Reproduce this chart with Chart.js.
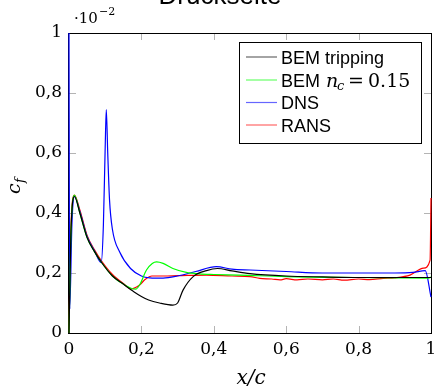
<!DOCTYPE html>
<html>
<head>
<meta charset="utf-8">
<script src="https://cdn.jsdelivr.net/npm/chart.js@4.4.1/dist/chart.umd.min.js"></script>
<style>
  html, body { margin: 0; padding: 0; background: #fff; }
  #wrap { width: 434px; height: 389px; }
</style>
</head>
<body>
<div id="wrap"><canvas id="cfChart" width="434" height="389"></canvas></div>
<script>
// tick labels (x/c und c_f in 1e-2)
const xTicks = [0, 0.2, 0.4, 0.6, 0.8, 1];
const yTicks = [0, 0.2, 0.4, 0.6, 0.8, 1];

// BEM tripping (schwarz)
const bemTripX = [0, 0.005, 0.015, 0.03, 0.05, 0.07, 0.09, 0.12, 0.15, 0.18, 0.2, 0.22, 0.25, 0.287, 0.3, 0.315, 0.343, 0.38, 0.41, 0.45, 0.5, 0.6, 0.7, 0.8, 0.9, 1.0];
const bemTripY = [0, 0.32, 0.455, 0.4, 0.318, 0.272, 0.235, 0.19, 0.163, 0.137, 0.122, 0.11, 0.1, 0.093, 0.1, 0.143, 0.188, 0.208, 0.215, 0.207, 0.198, 0.19, 0.187, 0.185, 0.185, 0.185];

// BEM n_c = 0.15 (gruen)
const bemNcX = [0, 0.005, 0.015, 0.03, 0.05, 0.07, 0.09, 0.12, 0.15, 0.184, 0.195, 0.214, 0.23, 0.242, 0.26, 0.287, 0.324, 0.36, 0.4, 0.47, 0.6, 0.8, 0.99, 1.0];
const bemNcY = [0, 0.32, 0.46, 0.4, 0.318, 0.272, 0.235, 0.19, 0.163, 0.146, 0.16, 0.21, 0.232, 0.237, 0.232, 0.215, 0.202, 0.197, 0.195, 0.193, 0.188, 0.185, 0.183, 0.186];

// DNS (blau)
const dnsX = [0, 0.002, 0.008, 0.015, 0.03, 0.05, 0.07, 0.089, 0.095, 0.1, 0.103, 0.107, 0.112, 0.12, 0.14, 0.17, 0.2, 0.223, 0.26, 0.3, 0.35, 0.407, 0.45, 0.5, 0.6, 0.7, 0.8, 0.9, 0.95, 0.984, 1.0];
const dnsY = [1.0, 0.08, 0.36, 0.455, 0.405, 0.322, 0.275, 0.235, 0.36, 0.62, 0.745, 0.6, 0.443, 0.345, 0.27, 0.215, 0.19, 0.184, 0.183, 0.19, 0.205, 0.221, 0.213, 0.21, 0.205, 0.2, 0.2, 0.2, 0.202, 0.208, 0.12];

// RANS (rot)
const ransX = [0, 0.004, 0.015, 0.03, 0.05, 0.07, 0.09, 0.12, 0.15, 0.172, 0.195, 0.21, 0.229, 0.26, 0.3, 0.38, 0.45, 0.5, 0.527, 0.56, 0.583, 0.6, 0.63, 0.66, 0.7, 0.73, 0.76, 0.8, 0.83, 0.868, 0.9, 0.942, 0.979, 0.9975, 1.0];
const ransY = [0, 0.3, 0.46, 0.41, 0.325, 0.278, 0.24, 0.195, 0.165, 0.147, 0.16, 0.178, 0.19, 0.19, 0.191, 0.193, 0.19, 0.188, 0.182, 0.18, 0.177, 0.181, 0.177, 0.18, 0.177, 0.18, 0.176, 0.18, 0.178, 0.182, 0.184, 0.193, 0.216, 0.243, 0.45];

function pts(xs, ys) {
  return xs.map((x, i) => ({ x: x, y: ys[i] }));
}

function fmt(v) {
  if (v === 0 || v === 1) return String(v);
  return v.toFixed(1).replace('.', ',');
}

const serif = '"DejaVu Serif", serif';
const sans = '"Liberation Sans", Arial, sans-serif';

// Rahmen + Tickstriche (pgfplots-Stil, nach innen)
const framePlugin = {
  id: 'frame',
  beforeDatasetsDraw(chart) {
    const { ctx, chartArea: a, scales } = chart;
    ctx.save();
    ctx.strokeStyle = '#b4b4b4';
    ctx.lineWidth = 1;
    ctx.beginPath();
    xTicks.slice(1, -1).forEach(v => {
      const px = Math.round(scales.x.getPixelForValue(v)) + 0.5;
      ctx.moveTo(px, a.bottom); ctx.lineTo(px, a.bottom - 7);
      ctx.moveTo(px, a.top); ctx.lineTo(px, a.top + 7);
    });
    yTicks.slice(1, -1).forEach(v => {
      const py = Math.round(scales.y.getPixelForValue(v)) + 0.5;
      ctx.moveTo(a.left, py); ctx.lineTo(a.left + 7, py);
      ctx.moveTo(a.right, py); ctx.lineTo(a.right - 7, py);
    });
    ctx.stroke();
    ctx.strokeStyle = '#000';
    ctx.strokeRect(Math.round(a.left) - 0.5, Math.round(a.top) + 0.5,
      Math.round(a.right - a.left) + 1, Math.round(a.bottom - a.top));
    ctx.restore();
  },
  afterDraw(chart) {
    const { ctx } = chart;
    ctx.save();
    ctx.fillStyle = '#000';
    ctx.textBaseline = 'alphabetic';

    // Titel (oben abgeschnitten)
    ctx.font = '26px ' + sans;
    ctx.textAlign = 'center';
    ctx.fillText('Druckseite', 220, 4);

    // Exponent ·10^-2
    ctx.textAlign = 'left';
    ctx.font = '15px ' + serif;
    ctx.fillText('\u00b710', 74, 23);
    ctx.font = '11px ' + serif;
    ctx.fillText('\u22122', 99, 15);

    // Achsentitel
    ctx.font = 'italic 20px ' + serif;
    ctx.textAlign = 'center';
    ctx.fillText('x/c', 251, 384);

    ctx.save();
    ctx.translate(20, 186);
    ctx.rotate(-Math.PI / 2);
    ctx.textAlign = 'left';
    ctx.font = 'italic 19px ' + serif;
    ctx.fillText('c', -8, 0);
    ctx.font = 'italic 13px ' + serif;
    ctx.fillText('f', 3, 4);
    ctx.restore();

    // Legende
    const lx = 239, ly = 42, lw = 182, lh = 101;
    ctx.fillStyle = '#fff';
    ctx.fillRect(lx, ly, lw, lh);
    ctx.strokeStyle = '#000';
    ctx.lineWidth = 1;
    ctx.strokeRect(lx + 0.5, ly + 0.5, lw, lh);

    const rows = [
      { color: '#000000', base: 63.5 },
      { color: '#00ff00', base: 86.5 },
      { color: '#0000ff', base: 109 },
      { color: '#ff0000', base: 131.5 }
    ];
    rows.forEach(r => {
      ctx.strokeStyle = r.color;
      ctx.globalAlpha = 0.6;
      ctx.lineWidth = 1.2;
      ctx.beginPath();
      ctx.moveTo(246, r.base - 6.5);
      ctx.lineTo(277, r.base - 6.5);
      ctx.stroke();
      ctx.globalAlpha = 1;
    });
    ctx.fillStyle = '#000';
    ctx.textAlign = 'left';
    ctx.font = '18px ' + sans;
    ctx.fillText('BEM tripping', 281, rows[0].base);
    ctx.fillText('BEM', 281, rows[1].base);
    ctx.fillText('DNS', 281, rows[2].base);
    ctx.fillText('RANS', 281, rows[3].base);
    ctx.font = 'italic 19px ' + serif;
    ctx.fillText('n', 326, rows[1].base);
    ctx.font = 'italic 13px ' + serif;
    ctx.fillText('c', 337, rows[1].base + 3);
    ctx.font = '19px ' + serif;
    ctx.fillText('=', 348, rows[1].base);
    ctx.fillText('0.15', 368, rows[1].base);
    ctx.restore();
  }
};

function line(label, xs, ys, color) {
  return {
    label: label,
    data: pts(xs, ys),
    borderColor: color,
    backgroundColor: color,
    borderWidth: 1.2,
    pointRadius: 0,
    cubicInterpolationMode: 'monotone',
    fill: false,
    clip: 1
  };
}

new Chart(document.getElementById('cfChart'), {
  type: 'line',
  data: {
    datasets: [
      line('BEM tripping', bemTripX, bemTripY, '#000000'),
      line('BEM n_c = 0.15', bemNcX, bemNcY, '#00ff00'),
      line('DNS', dnsX, dnsY, '#0000ff'),
      line('RANS', ransX, ransY, '#ff0000')
    ]
  },
  options: {
    responsive: false,
    animation: false,
    events: [],
    layout: { padding: { top: 33, right: 3, left: 0, bottom: 0 } },
    plugins: {
      legend: { display: false },
      tooltip: { enabled: false }
    },
    scales: {
      x: {
        type: 'linear',
        min: 0,
        max: 1,
        afterBuildTicks: s => { s.ticks = xTicks.map(v => ({ value: v })); },
        afterFit: s => { s.height = 56; s.paddingLeft = 0; s.paddingRight = 0; },
        grid: { display: false, drawTicks: false },
        border: { display: false },
        ticks: {
          color: '#000',
          font: { size: 17, family: serif },
          padding: 6,
          maxRotation: 0,
          autoSkip: false,
          callback: v => fmt(v)
        }
      },
      y: {
        type: 'linear',
        min: 0,
        max: 1,
        afterBuildTicks: s => { s.ticks = yTicks.map(v => ({ value: v })); },
        afterFit: s => { s.width = 69; s.paddingTop = 0; s.paddingBottom = 0; },
        grid: { display: false, drawTicks: false },
        border: { display: false },
        ticks: {
          color: '#000',
          font: { size: 17, family: serif },
          padding: 7,
          autoSkip: false,
          callback: v => fmt(v)
        }
      }
    }
  },
  plugins: [framePlugin]
});
</script>
</body>
</html>
